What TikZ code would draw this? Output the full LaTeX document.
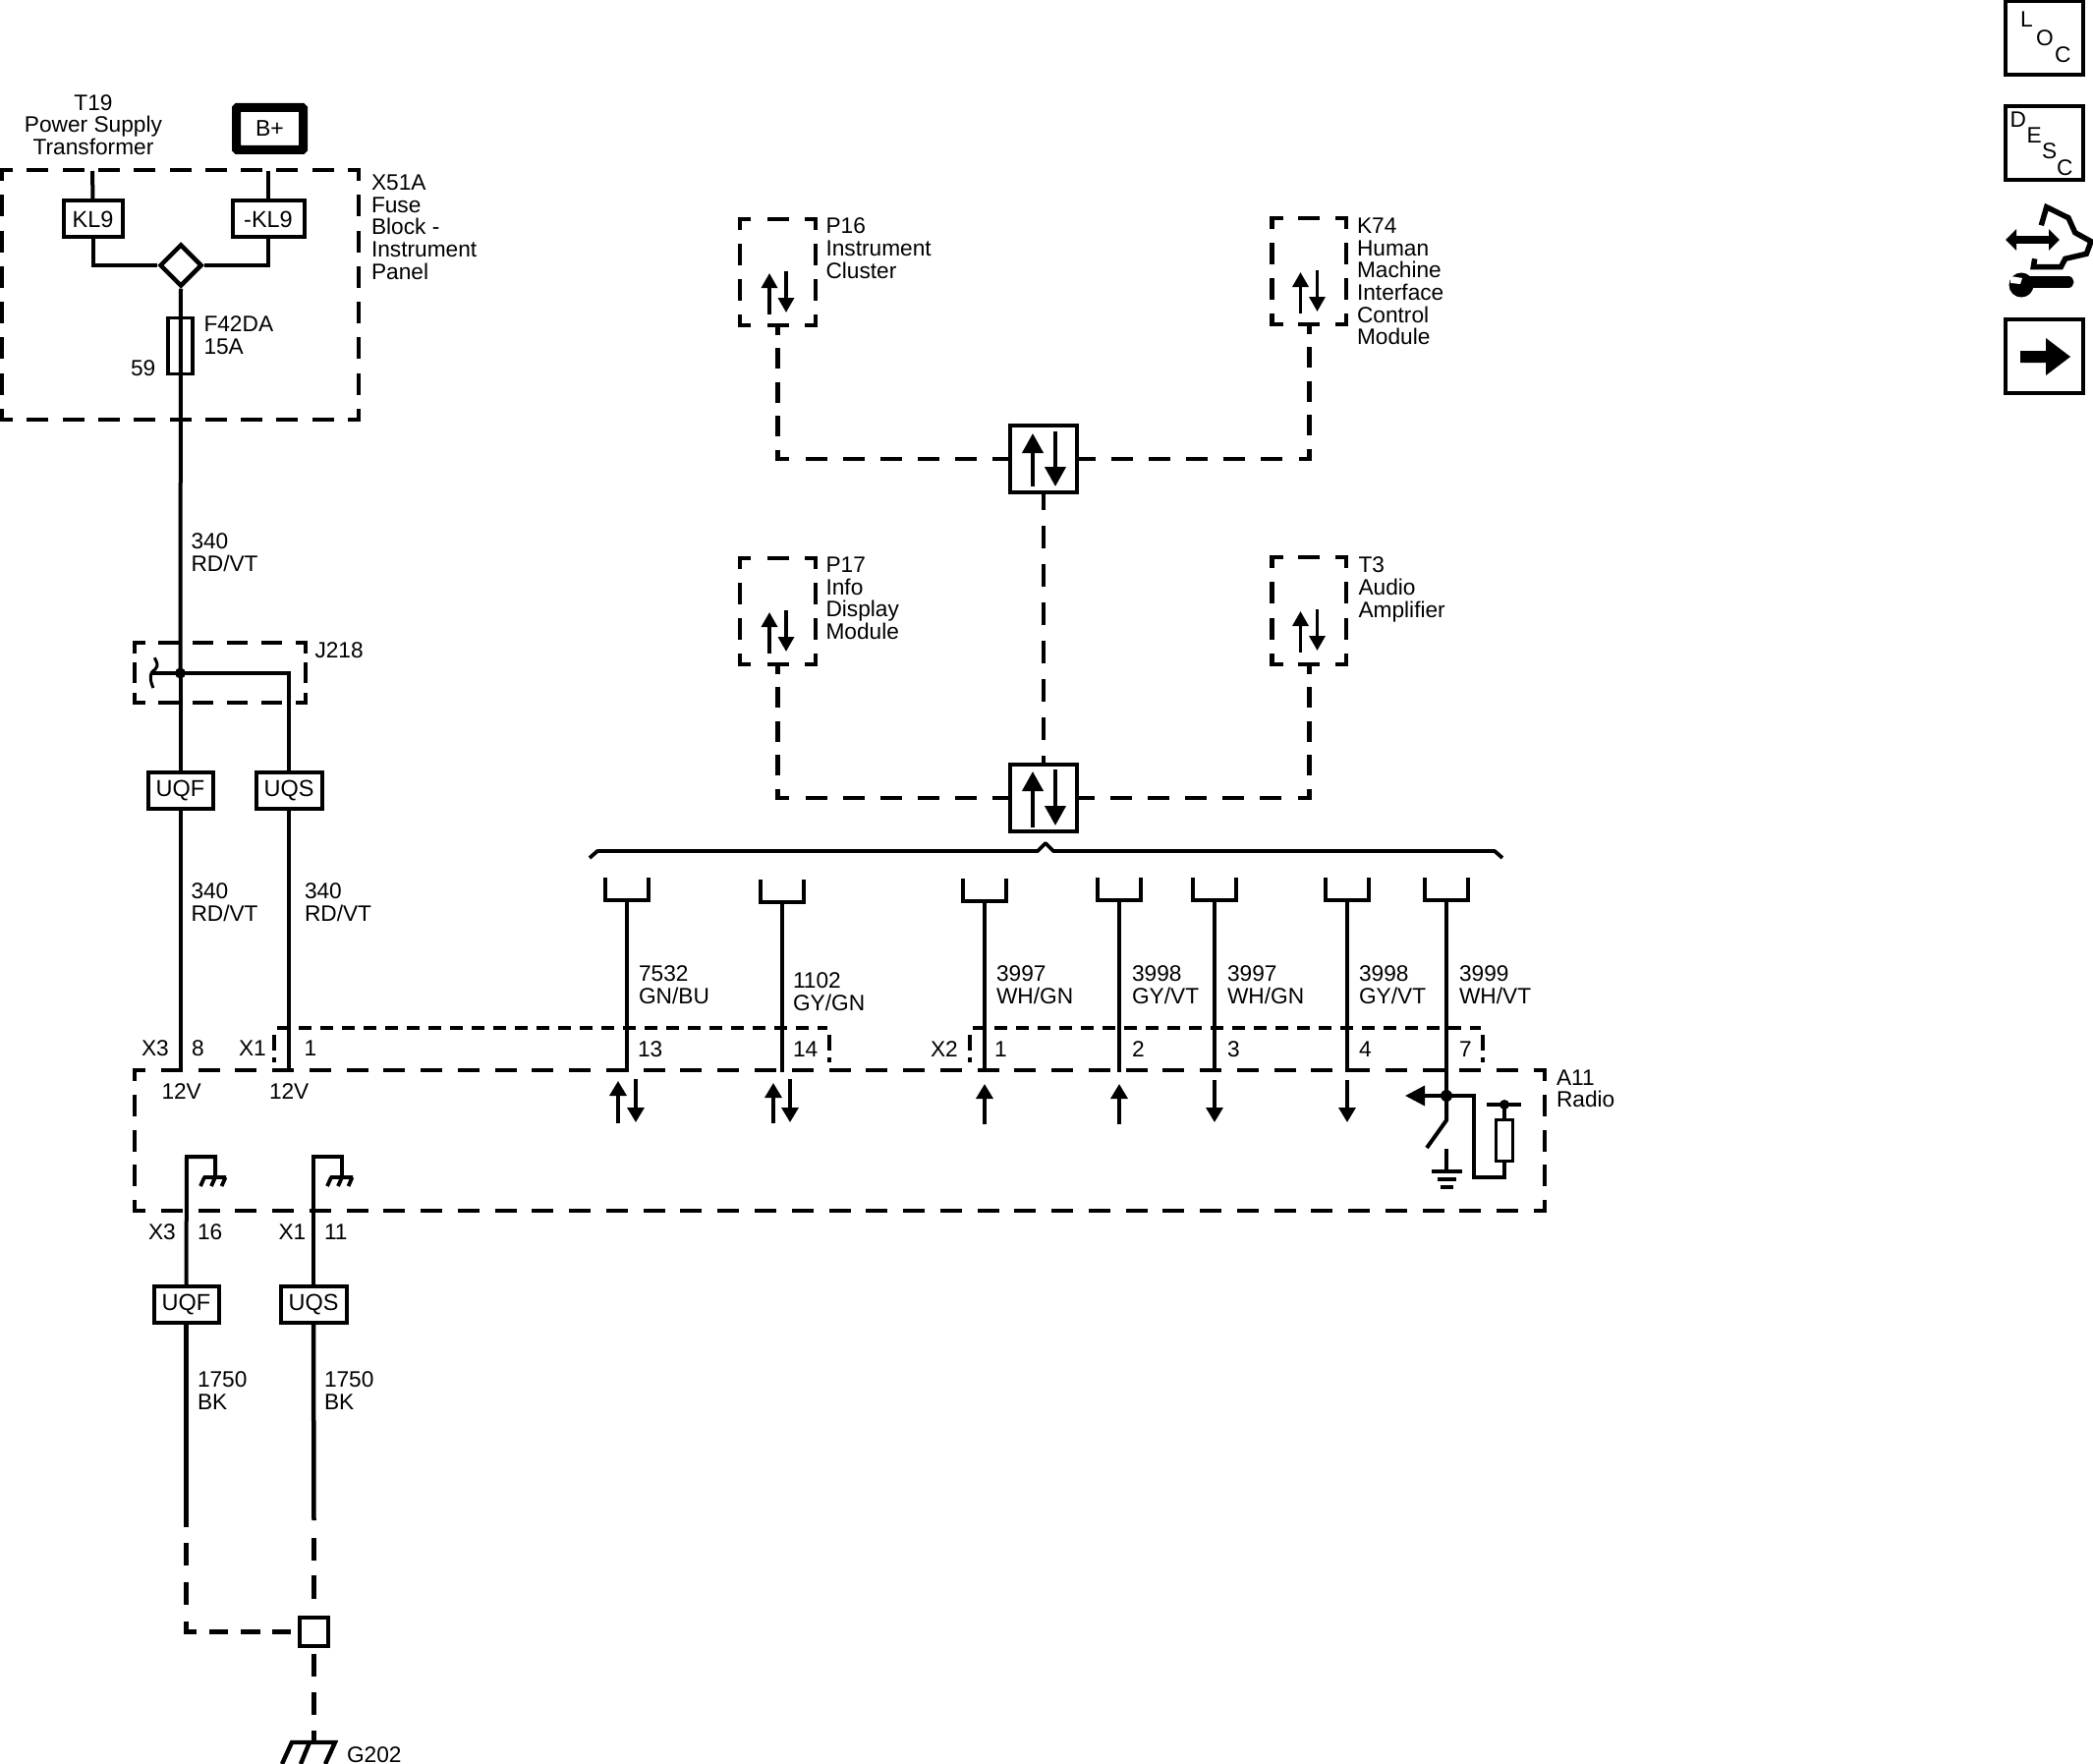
\documentclass[tikz,border=0pt]{standalone}
\usepackage{fontspec}
\setmainfont{Liberation Sans}
\usetikzlibrary{shapes.geometric,arrows.meta}
\tikzset{
  x=1pt,y=-1pt,
  lbl/.style={anchor=north west,inner sep=0pt,outer sep=0pt,align=left,font=\fontsize{22.7}{22.6}\selectfont},
  lblc/.style={lbl,anchor=north,align=center},
  wire/.style={line width=4pt},
  tagbox/.style={draw,line width=4pt,inner sep=0pt,font=\fontsize{23.5}{22.6}\selectfont,minimum width=#1,minimum height=37pt},
  tagbox/.default=60pt,
  busline/.style={line width=4.5pt,dash pattern=on 10pt off 13pt on 21pt off 13.5pt on 21pt off 13.5pt on 21pt off 13.5pt on 21pt off 17pt on 22pt off 16pt on 22pt off 16pt on 22pt off 16pt on 22pt off 16pt on 22pt off 16pt on 22pt off 16pt},
  pindash/.style={line width=3.8pt,dash pattern=on 12.5pt off 9.5pt},
  sgnup/.style={line width=3.3pt,-{Triangle[length=15pt,width=17pt]}},
  smallud/.style={line width=3.3pt,-{Triangle[length=15pt,width=16pt]}},
  udbox/.style={draw,line width=4pt,inner sep=0pt,minimum width=68pt,minimum height=68pt},
  udhead/.style={line width=4pt,-{Triangle[length=20pt,width=21pt]}},
  dot/.style={circle,fill=black,inner sep=0pt,minimum size=#1},
  iconbox/.style={draw,line width=4pt,inner sep=0pt,minimum width=79pt,minimum height=75pt},
}
% dashed box whose four corners are L-shaped dashes
\newcommand{\dside}[7]{%
  \pgfmathsetmacro\dsL{abs(#3-#1)+abs(#4-#2)}%
  \pgfmathsetmacro\dsN{max(1,round(\dsL/#7))}%
  \pgfmathsetmacro\dsP{\dsL/\dsN}%
  \pgfmathsetmacro\dsOn{#6-#5}%
  \pgfmathsetmacro\dsOff{\dsP-\dsOn}%
  \pgfmathsetmacro\dsPh{\dsOn/2}%
  \draw[line width=#5pt,line cap=rect,dash pattern=on \dsOn pt off \dsOff pt,dash phase=\dsPh pt] (#1,#2) -- (#3,#4);%
}
\newcommand{\dbox}[8]{%
  \node[inner sep=0pt,outer sep=0pt,minimum width=#4pt-#2pt,minimum height=#5pt-#3pt] (#1) at ({(#2+#4)/2},{(#3+#5)/2}) {};%
  \dside{#2}{#3}{#4}{#3}{#6}{#7}{#8}%
  \dside{#2}{#5}{#4}{#5}{#6}{#7}{#8}%
  \dside{#2}{#3}{#2}{#5}{#6}{#7}{#8}%
  \dside{#4}{#3}{#4}{#5}{#6}{#7}{#8}%
}
\newcommand{\chassis}[2]{%
  \draw[line width=3.8pt] (#1-12,#2) -- (#1+11,#2)
    (#1-11,#2) -- (#1-15,#2+9) (#1,#2) -- (#1-4,#2+9) (#1+10.5,#2) -- (#1+6.5,#2+9);%
}
\begin{document}
\begin{tikzpicture}
\useasboundingbox (0,0) rectangle (2130,1795);

% --- power feed -----------------------------------------------------------
\node[lblc] (t19) at (95,96.5) {T19\\Power Supply\\Transformer};
\node[draw,line width=9pt,inner sep=0pt,minimum width=68pt,minimum height=43pt,rounded corners=1pt,font=\fontsize{23}{22.6}\selectfont] (bplus) at (274.5,131) {B+};
\dbox{x51a}{2}{173}{365}{427}{4.5}{22}{36}
\node[lbl] (x51atxt) at (378,178) {X51A\\Fuse\\Block -\\Instrument\\Panel};
\coordinate (feedL) at (94,174);
\coordinate (feedR) at (273,174);
\node[tagbox=60pt] (kl9) at (94.5,223) {KL9};
\node[tagbox=73pt] (nkl9) at (273,223) {-KL9};
\node[diamond,draw,line width=4.5pt,inner sep=0pt,minimum width=43pt,minimum height=43pt,aspect=1] (mix) at (184,270) {};
\draw[wire] (feedL) -- (kl9.north);
\draw[wire] (feedR) -- (nkl9.north);
\draw[wire] (kl9.south) |- (mix.west);
\draw[wire] (nkl9.south) |- (mix.east);
\node[draw,line width=3.5pt,inner sep=0pt,minimum width=25pt,minimum height=57pt] (fuse) at (183.5,352) {};
\node[lbl] (fusetxt) at (207.5,322) {F42DA\\15A};
\node[lbl] (pin59) at (133,367) {59};
\node[lbl] (w340a) at (194.5,543) {340\\RD/VT};

% --- J218 splice -----------------------------------------------------------
\dbox{j218}{137}{654}{311}{715}{4.5}{21}{34.5}
\node[lbl] (j218txt) at (320.5,653.5) {J218};
\node[dot=11pt] (jdot) at (183.5,685) {};
\coordinate (jstub) at (153.5,685);
\draw[wire] (mix.south) -- (jdot.center);
\draw[wire] (jstub) -- (jdot.center);
\draw[line width=3pt] (157.3,669.3) .. controls (159,673) and (162,677) .. (158,681) .. controls (155,683) and (153.3,685) .. (153.3,689) .. controls (153.3,693) and (154.5,697) .. (156,700);
\node[tagbox=66pt] (uqfa) at (183.5,804.5) {UQF};
\node[tagbox=67pt] (uqsa) at (294,804.5) {UQS};
\draw[wire] (jdot.center) -- (uqfa.north);
\draw[wire] (jdot.center) -| (uqsa.north);
\node[lbl] (w340b) at (194.5,899) {340\\RD/VT};
\node[lbl] (w340c) at (310,899) {340\\RD/VT};

% --- radio enclosure ---------------------------------------------------------
\dbox{radio}{137}{1089}{1572}{1232}{4.5}{22}{37.5}
\node[lbl] (radiotxt) at (1584,1088.5) {A11\\Radio};
\coordinate (pin8) at (183.5,1091);
\coordinate (pin1) at (294,1091);
\draw[wire] (uqfa.south) -- (pin8);
\draw[wire] (uqsa.south) -- (pin1);
\node[lbl] (x3a) at (144,1059) {X3};
\node[lbl] (p8) at (195,1059) {8};
\node[lbl] (x1a) at (243,1059) {X1};
\node[lbl] (p1) at (309.5,1059) {1};
\node[lbl] (v12a) at (164.5,1103) {12V};
\node[lbl] (v12b) at (274,1103) {12V};

% connector shells
\draw[pindash] (282,1046) -- (842,1046);
\draw[pindash] (990,1046) -- (1507,1046);
\foreach \sx in {279,844,987,1509}
  \draw[line width=3.8pt,dash pattern=on 16pt off 7pt on 5pt off 100pt] (\sx,1053) -- (\sx,1082);

% --- data bus ----------------------------------------------------------------
\dbox{p16}{753}{223}{830}{331}{4.5}{22}{36}
\dbox{k74}{1294.5}{222}{1370}{330}{4.5}{22}{36}
\dbox{p17}{753}{568}{830}{676}{4.5}{22}{36}
\dbox{t3}{1294.5}{567}{1370}{676}{4.5}{22}{36}
\node[lbl] (p16txt) at (840.5,222) {P16\\Instrument\\Cluster};
\node[lbl] (k74txt) at (1381,222) {K74\\Human\\Machine\\Interface\\Control\\Module};
\node[lbl] (p17txt) at (840.5,567) {P17\\Info\\Display\\Module};
\node[lbl] (t3txt) at (1382.5,567) {T3\\Audio\\Amplifier};
\foreach \ax/\dy in {783/0,1323.5/-1,783/345,1323.5/344}{
  \draw[smallud] (\ax,320+\dy) -- (\ax,278+\dy);
  \draw[smallud] (\ax+17,276+\dy) -- (\ax+17,318+\dy);
}
\node[udbox] (busa) at (1062,467) {};
\node[udbox] (busb) at (1062,812) {};
\draw[udhead] (1051,495) -- (1051,441);
\draw[udhead] (1074,439) -- (1074,495);
\draw[udhead] (1051,842) -- (1051,785);
\draw[udhead] (1074,783) -- (1074,840);
\draw[busline] (p16.south) |- (busa.west);
\draw[busline] (k74.south) |- (busa.east);
\draw[busline] (p17.south) |- (busb.west);
\draw[busline] (t3.south) |- (busb.east);
\draw[line width=4.5pt,dash pattern=on 23pt off 16pt,dash phase=7pt] (busa.south) -- (busb.north);
\coordinate (brL) at (600,873);
\coordinate (brR) at (1529,873);
\coordinate (brTop) at (1064,858);
\draw[line width=3.8pt,line join=round] (brL) -- (608,866) -- (1056,866) -- (brTop) -- (1072,866) -- (1521,866) -- (brR);

% cups and pin wires
\foreach \nm/\wx/\cy in {a/638/916,b/796/918,c/1002/917,d/1139/916,e/1236/916,f/1371/916,g/1472/916}{
  \coordinate (cup\nm) at (\wx,\cy);
  \coordinate (pin\nm) at (\wx,1091);
  \draw[line width=4pt,line join=miter] (\wx-22,\cy-23) -- (\wx-22,\cy) -- (\wx+22,\cy) -- (\wx+22,\cy-23);
  \draw[wire] (cup\nm) -- (pin\nm);
}
\node[lbl] (w7532) at (650,983) {7532\\GN/BU};
\node[lbl] (w1102) at (807,990) {1102\\GY/GN};
\node[lbl] (w3997a) at (1014,983) {3997\\WH/GN};
\node[lbl] (w3998a) at (1152,983) {3998\\GY/VT};
\node[lbl] (w3997b) at (1249,983) {3997\\WH/GN};
\node[lbl] (w3998b) at (1383,983) {3998\\GY/VT};
\node[lbl] (w3999) at (1485,983) {3999\\WH/VT};
\node[lbl] (p13) at (649,1060) {13};
\node[lbl] (p14) at (807,1060) {14};
\node[lbl] (x2) at (947,1060) {X2};
\node[lbl] (p1b) at (1012,1060) {1};
\node[lbl] (p2) at (1152,1060) {2};
\node[lbl] (p3) at (1249,1060) {3};
\node[lbl] (p4) at (1383,1060) {4};
\node[lbl] (p7) at (1485,1060) {7};

% signal direction arrows
\draw[sgnup] (629,1143) -- (629,1100);
\draw[sgnup] (647,1098) -- (647,1142);
\draw[sgnup] (787,1143) -- (787,1102);
\draw[sgnup] (804,1098) -- (804,1142);
\draw[sgnup] (1002,1144) -- (1002,1103);
\draw[sgnup] (1139,1144) -- (1139,1103);
\draw[sgnup] (1236,1099) -- (1236,1142);
\draw[sgnup] (1371,1099) -- (1371,1142);

% radio input with pull-up and switch
\node[dot=12pt] (gdot) at (1472,1115) {};
\draw[wire] (ping) -- (gdot.center);
\coordinate (gtip) at (1430,1115);
\draw[line width=3.6pt,-{Triangle[length=20pt,width=20pt]}] (gdot.center) -- (gtip);
\coordinate (swpivot) at (1472,1140);
\coordinate (swfree) at (1452,1168);
\draw[wire,line join=round] (gdot.center) -- (swpivot) -- (swfree);
\coordinate (gndtop) at (1472,1169);
\coordinate (gndbar) at (1472,1192);
\draw[line width=3.6pt] (gndtop) -- (gndbar);
\draw[line width=3.6pt] (1457,1192) -- (1488,1192) (1463,1200) -- (1482,1200) (1466,1208) -- (1479,1208);
\node[draw,line width=3.5pt,inner sep=0pt,minimum width=17pt,minimum height=42pt] (res) at (1531,1160.5) {};
\node[dot=10pt] (rdot) at (1531,1124) {};
\draw[line width=3.4pt] (1513,1124) -- (1548,1124);
\draw[line width=3.6pt] (rdot.center) -- (res.north);
\draw[line width=3.6pt,line join=miter] (gdot.center) -| (1500,1198) -| (res.south);

% --- grounds -------------------------------------------------------------------
\node[lbl] (x3b) at (151,1246) {X3};
\node[lbl] (p16b) at (201,1246) {16};
\node[lbl] (x1b) at (283.5,1246) {X1};
\node[lbl] (p11) at (330,1246) {11};
\node[tagbox=66pt] (uqfb) at (189.5,1327.5) {UQF};
\node[tagbox=67pt] (uqsb) at (319,1327.5) {UQS};
\coordinate (gtopa) at (190,1177);
\coordinate (gtopb) at (319,1177);
\draw[line width=4pt,line join=miter] (uqfb.north) -- (gtopa) -- (219,1177) -- (219,1198);
\draw[line width=4pt,line join=miter] (uqsb.north) -- (gtopb) -- (348,1177) -- (348,1198);
\chassis{219}{1198}
\chassis{348}{1198}
\node[lbl] (w1750a) at (201,1396) {1750\\BK};
\node[lbl] (w1750b) at (330,1396) {1750\\BK};
\coordinate (solidA) at (189.5,1554);
\coordinate (solidB) at (319.5,1547);
\draw[line width=4.5pt] (uqfb.south) -- (solidA);
\draw[line width=4.5pt] (uqsb.south) -- (solidB);
\node[draw,line width=4pt,inner sep=0pt,minimum width=29pt,minimum height=29pt] (gsplice) at (319.5,1660.5) {};
\draw[line width=4.5pt,dash pattern=on 0pt off 16pt on 23pt off 17pt on 23pt off 17pt on 20.5pt off 13.5pt on 19pt off 13pt on 20pt off 12pt on 19pt off 20pt] (solidA) |- (gsplice.west);
\draw[line width=4.5pt,dash pattern=on 0pt off 18pt on 23pt off 15pt on 24pt off 50pt] (solidB) -- (gsplice.north);
\coordinate (gstem) at (319.5,1773);
\draw[line width=4.5pt,dash pattern=on 23pt off 16pt,dash phase=33pt] (gsplice.south) -- (gstem);
\draw[line width=4.4pt,line join=miter] (287,1795) -- (297,1773) -- (341,1773) -- (331,1795);
\draw[line width=4.4pt] (315,1773) -- (306,1795);
\node[lbl] (g202) at (353,1778) {G202};

% --- icons ---------------------------------------------------------------------
\node[iconbox] (loc) at (2080.5,38.5) {};
\node[lbl] (ll) at (2056,12) {L};
\node[lbl] (lo) at (2072,31) {O};
\node[lbl] (lc) at (2091,48) {C};
\node[iconbox] (desc) at (2080.5,145.5) {};
\node[lbl] (dd) at (2045.5,114) {D};
\node[lbl] (de) at (2062.5,130) {E};
\node[lbl] (ds) at (2078,146) {S};
\node[lbl] (dc) at (2093,163) {C};
\draw[line width=5.5pt,line join=miter] (2077.3,229.3) -- (2082.7,210.7) -- (2105,221.7) -- (2111.7,236.7) -- (2128,245.7) -- (2123.3,258.3) -- (2101.7,263.3) -- (2097.3,271.7) -- (2069.3,271.7) -- (2070.7,263.3);
\draw[line width=8.5pt,{Triangle[length=11pt,width=21pt]}-{Triangle[length=11pt,width=21pt]}] (2041,244) -- (2096,244);
\draw[line width=11pt,line cap=round] (2062,287) -- (2105,287);
\fill (2057,290) circle (12.5pt);
\fill[white] (2046,281) -- (2058,283) -- (2056,289) -- (2046,288) -- cycle;
\node[iconbox] (fwd) at (2080.5,362.5) {};
\fill (2056,357) -- (2082,357) -- (2082,344) -- (2107,363) -- (2082,382) -- (2082,369) -- (2056,369) -- cycle;
\end{tikzpicture}
\end{document}
